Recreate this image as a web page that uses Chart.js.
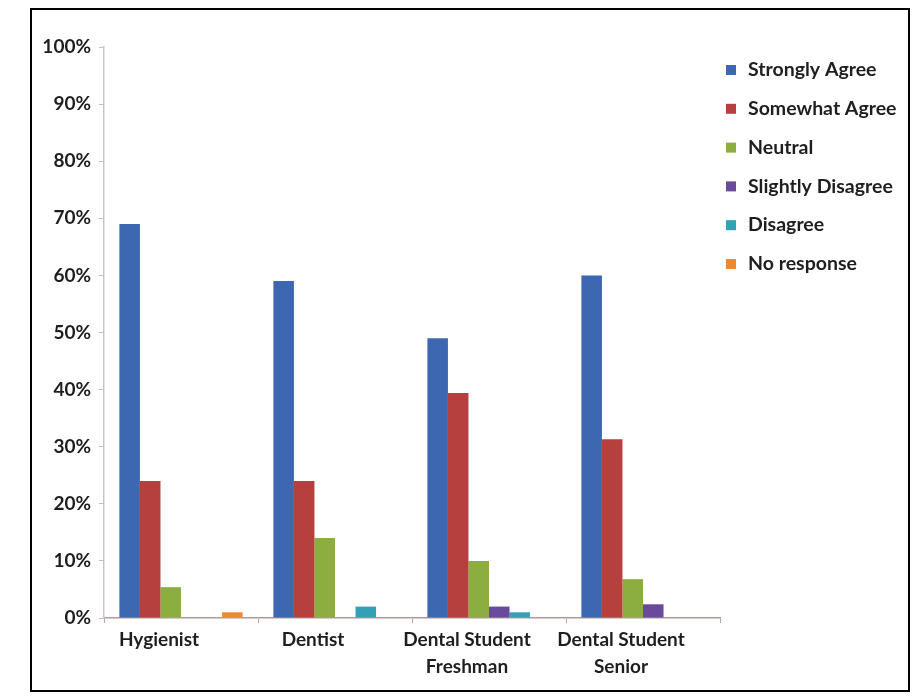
<!DOCTYPE html>
<html>
<head>
<meta charset="utf-8">
<script src="https://cdn.jsdelivr.net/npm/chart.js@4"></script>
<style>
  html, body { margin: 0; padding: 0; background: #fff; }
  #wrap { position: relative; width: 924px; height: 699px; }
  #frame { position: absolute; left: 30px; top: 8px; width: 876px; height: 680px; border: 2px solid #000; pointer-events: none; }
  canvas { position: absolute; left: 0; top: 0; }
</style>
</head>
<body>
<div id="wrap">
  <canvas id="c" width="924" height="699"></canvas>
  <div id="frame"></div>
</div>
<script>
// Respondent groups
const groups = ['Hygienist', 'Dentist', ['Dental Student', 'Freshman'], ['Dental Student', 'Senior']];

// Share of responses per answer, in percent, one value per group
const stronglyAgree    = [69, 59, 49, 60];
const somewhatAgree    = [24, 24, 39.4, 31.3];
const neutral          = [5.4, 14, 10, 6.8];
const slightlyDisagree = [null, null, 2, 2.4];
const disagree         = [null, 2, 1, null];
const noResponse       = [1, null, null, null];

const yTicks = [0, 10, 20, 30, 40, 50, 60, 70, 80, 90, 100];

const FONT = 'Lato, "Open Sans", sans-serif';

const series = [
  { label: 'Strongly Agree',    data: stronglyAgree,    color: '#3d67b1' },
  { label: 'Somewhat Agree',    data: somewhatAgree,    color: '#b5403d' },
  { label: 'Neutral',           data: neutral,          color: '#8cae40' },
  { label: 'Slightly Disagree', data: slightlyDisagree, color: '#6a4b9b' },
  { label: 'Disagree',          data: disagree,         color: '#33a0b6' },
  { label: 'No response',       data: noResponse,       color: '#ee8a2e' }
];

// Legend drawn as a plain column of swatches to the right of the plot
const sideLegend = {
  id: 'sideLegend',
  afterDraw(chart) {
    const ctx = chart.ctx;
    ctx.save();
    ctx.font = 'bold 19.5px ' + FONT;
    ctx.textBaseline = 'middle';
    ctx.textAlign = 'left';
    chart.data.datasets.forEach((ds, i) => {
      const y = 70 + i * 38.8;
      ctx.fillStyle = ds.backgroundColor;
      ctx.fillRect(726, y - 5, 10, 10);
      ctx.fillStyle = '#1e1e1e';
      ctx.fillText(ds.label, 748, y);
    });
    ctx.restore();
  }
};

new Chart(document.getElementById('c'), {
  type: 'bar',
  data: {
    labels: groups,
    datasets: series.map(s => ({
      label: s.label,
      data: s.data,
      backgroundColor: s.color,
      borderWidth: 0,
      categoryPercentage: 0.8,
      barPercentage: 1.0
    }))
  },
  options: {
    responsive: false,
    animation: false,
    layout: { padding: { left: 0, right: 204, top: 47, bottom: 0 } },
    plugins: {
      legend: { display: false },
      tooltip: { enabled: false }
    },
    scales: {
      x: {
        offset: true,
        grid: {
          display: true,
          offset: true,
          drawOnChartArea: false,
          drawTicks: true,
          tickLength: 5,
          color: '#b8a4a4'
        },
        border: { display: true, color: '#b39a9a', width: 1.5 },
        ticks: {
          color: '#1e1e1e',
          font: { family: FONT, size: 19, weight: 'bold', lineHeight: 1.4 },
          padding: 4,
          labelOffset: -22,
          maxRotation: 0,
          autoSkip: false
        },
        afterFit(scale) { scale.height = 81; }
      },
      y: {
        min: 0,
        max: 100,
        afterBuildTicks(scale) { scale.ticks = yTicks.map(v => ({ value: v })); },
        grid: {
          display: true,
          drawOnChartArea: false,
          drawTicks: true,
          tickLength: 5,
          color: '#c9bcbc'
        },
        border: { display: true, color: '#cfc3c3', width: 1.5 },
        ticks: {
          color: '#1e1e1e',
          font: { family: FONT, size: 19, weight: 'bold' },
          padding: 8,
          callback: v => v + '%'
        },
        afterFit(scale) { scale.width = 104; }
      }
    }
  },
  plugins: [sideLegend]
});
</script>
</body>
</html>
